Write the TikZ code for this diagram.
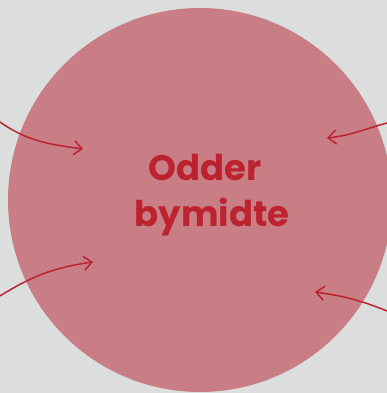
\documentclass[tikz,border=0pt]{standalone}
\usepackage{fontspec}
\setmainfont{Poppins}[UprightFont=* Bold]
\usetikzlibrary{arrows.meta}
\definecolor{bg}{HTML}{DCDEDD}
\definecolor{disc}{HTML}{C97E85}
\definecolor{ink}{HTML}{BC232E}
\tikzset{
  flow/.style={draw=ink, line width=1.5pt, -{Straight Barb[length=8pt,width=14pt,line width=1.5pt]}},
  label/.style={text=ink, font=\fontsize{35.5}{45}\selectfont, inner sep=0pt, anchor=base}
}
\begin{document}
\begin{tikzpicture}[x=1pt,y=1pt]
  \fill[bg] (0,0) rectangle (387,393);
  \useasboundingbox (0,0) rectangle (387,393);
  \node[circle, fill=disc, minimum size=384pt, inner sep=0pt] (disc) at (200,193) {};
  \node[label] (title1) at (205,212) {Odder};
  \node[label] (title2) at (212,166) {bymidte};
  \coordinate (s1) at (0,271);   \coordinate (e1) at (83,244);
  \coordinate (s2) at (0,97);    \coordinate (e2) at (93,131);
  \coordinate (s3) at (387,270); \coordinate (e3) at (327,255);
  \coordinate (s4) at (387,82);  \coordinate (e4) at (315,101);
  \draw[flow] (s1) to[out=-35, in=172] (e1);
  \draw[flow] (s2) to[out=32, in=188] (e2);
  \draw[flow] (s3) to[out=195, in=6] (e3);
  \draw[flow] (s4) to[out=158, in=-8] (e4);
\end{tikzpicture}
\end{document}
